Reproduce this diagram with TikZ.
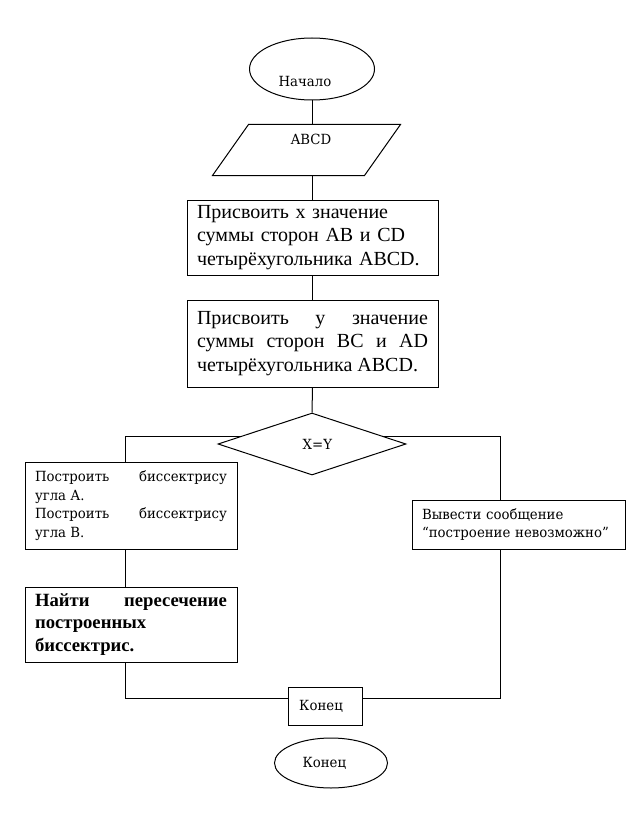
\documentclass[tikz,border=0pt]{standalone}
\usepackage{fontspec}
\setmainfont{Liberation Serif}
\newfontfamily\smallserif[FakeStretch=0.95]{DejaVu Serif}
\usetikzlibrary{shapes.geometric}

\tikzset{every picture/.style={line width=0.75pt}}
\tikzset{
  bigtext/.style={font=\fontsize{15}{17.6}\selectfont},
  smalltext/.style={font=\smallserif\fontsize{10.5}{14}\selectfont},
  procbox/.style={draw, rectangle, inner xsep=7.5pt, inner ysep=0pt, align=justify},
  termshape/.style={draw, ellipse, inner sep=0pt},
}

\begin{document}
\begin{tikzpicture}[x=0.75pt,y=0.75pt,yscale=-1,xscale=1]
\useasboundingbox (0,0) rectangle (638,813);

%Shape: Ellipse [id:start]
\node [termshape, minimum width=93.75pt, minimum height=46.5pt] (start) at (312,69) {};
% Text Node
\node [smalltext, inner sep=0.75pt] (starttxt) at (305,81) {Начало};

%Shape: Parallelogram [id:input]
\node [minimum width=140.25pt, minimum height=37.5pt, inner sep=0pt] (input) at (306.5,150) {};
\draw ([xshift=27pt]input.north west) -- (input.north east) -- ([xshift=-27pt]input.south east) -- (input.south west) -- cycle;
% Text Node
\node [smalltext, inner sep=0.75pt] (inputtxt) at (311,139) {ABCD};

%Shape: Rectangle [id:sumx]
\node [procbox, bigtext, text width=173.25pt, minimum height=56.25pt, align=left] (sumx) at (312.5,237.5) {Присвоить x значение\\суммы сторон AB и CD\\четырёхугольника ABCD.};
%Shape: Rectangle [id:sumy]
\node [procbox, bigtext, text width=173.25pt, minimum height=65.25pt] (sumy) at (312.5,343.5) {Присвоить\hfill у\hfill значение\\суммы\hfill сторон\hfill BC\hfill и\hfill AD\\четырёхугольника ABCD.};

%Shape: Diamond [id:check]
\node [draw, diamond, minimum width=141pt, minimum height=46.5pt, inner sep=0pt, smalltext] (check) at (312,444) {\hspace*{8pt}X=Y};

%Shape: Rectangle [id:bisect]
\node [procbox, smalltext, text width=144pt, minimum height=65.25pt] (bisect) at (131,505.5) {Построить\hfill биссектрису\\угла А.\\Построить\hfill биссектрису\\угла В.};
%Shape: Rectangle [id:cross]
\node [procbox, font=\bfseries\fontsize{14}{17}\selectfont, text width=144pt, minimum height=56.25pt] (cross) at (131,624.5) {Найти\hfill пересечение\\построенных\\биссектрис.};
%Shape: Rectangle [id:fail]
\node [procbox, smalltext, text width=144.75pt, minimum height=36.75pt, align=left] (fail) at (518.5,524.5) {Вывести сообщение\\“построение невозможно”};

%Shape: Rectangle [id:endbox]
\node [draw, rectangle, smalltext, minimum width=55.5pt, minimum height=28.5pt, inner sep=0pt] (endbox) at (325,706) {Конец\hspace*{6pt}};
%Shape: Ellipse [id:stop]
\node [termshape, smalltext, minimum width=84.75pt, minimum height=37.5pt] (stop) at (331,763) {Конец\hspace*{10pt}};

%Straight Lines
\coordinate (lft) at (125,437);
\coordinate (rgt) at (500,437);
\draw (start.south) -- (start.south |- input.north);
\draw (start.south |- input.south) -- (start.south |- sumx.north);
\draw (sumx.south) -- (sumy.north);
\draw (sumy.south) -- (check.north);
\draw (check.174) -- (check.174 -| lft) -- (lft |- bisect.north);
\draw (lft |- bisect.south) -- (lft |- cross.north);
\draw (lft |- cross.south) -- (lft |- endbox.168) -- (endbox.168);
\draw (check.6) -- (check.6 -| rgt) -- (rgt |- fail.north);
\draw (rgt |- fail.south) -- (rgt |- endbox.12) -- (endbox.12);

\end{tikzpicture}
\end{document}
